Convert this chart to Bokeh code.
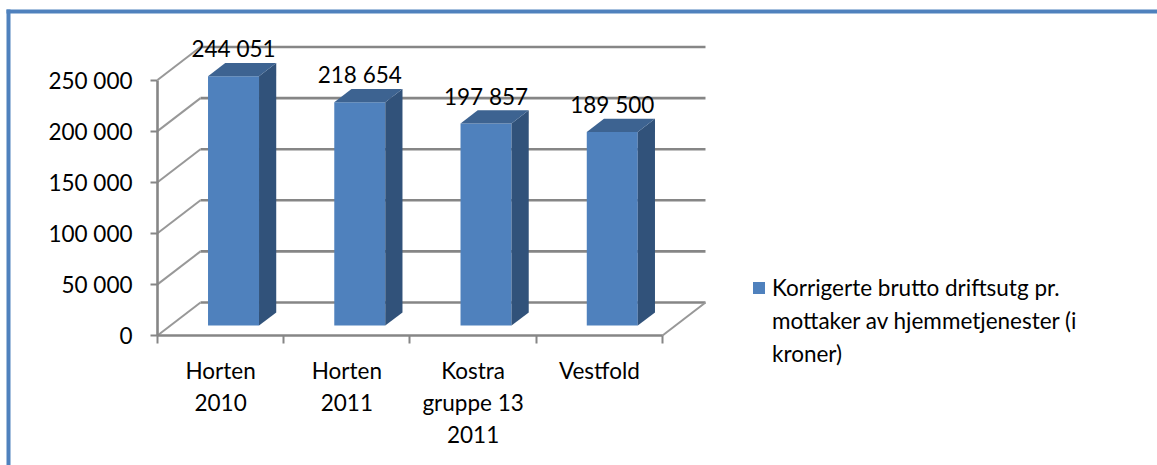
from bokeh.plotting import figure
from bokeh.embed import file_html
from bokeh.resources import INLINE
from bokeh.core.properties import value
from bokeh.models import (ColumnDataSource, FixedTicker, Range1d, Legend, LegendItem,
                          BoxAnnotation)

categories = ["Horten\n2010", "Horten\n2011", "Kostra\ngruppe 13\n2011", "Vestfold"]
values = [244051, 218654, 197857, 189500]
y_ticks = [0, 50000, 100000, 150000, 200000, 250000]
legend_lines = ["Korrigerte brutto driftsutg pr.", "mottaker av hjemmetjenester (i", "kroner)"]

FONT = "Lato"
FS = "22.5px"
GRID = "#868686"
FRONT, SIDE, TOP, BORDER = "#4F81BD", "#31527A", "#3D6391", "#4F81BD"

# oblique projection of the 3-D chart: one unit of depth in data units
DX, DY = 0.3406, 32290
BAR_W, D0, D1 = 0.404, 0.30, 0.70
n = len(categories)

# the plot frame fills the page; both axes are pinned to zero inside it
p = figure(width=1157, height=465, output_backend="svg", toolbar_location=None,
           x_range=Range1d(-1.24356, 7.9208), y_range=Range1d(-127202, 327789),
           min_border_left=0, min_border_right=0, min_border_top=0, min_border_bottom=0,
           outline_line_color=None, background_fill_color="white", border_fill_color="white")
p.grid.visible = False

# page frame of the original: left and top edges only
for kw in (dict(left=6, right=10, top=456, bottom=0),
           dict(left=6, right=1157, top=456, bottom=452)):
    p.add_layout(BoxAnnotation(left_units="screen", right_units="screen", top_units="screen",
                               bottom_units="screen", fill_color=BORDER, fill_alpha=1,
                               line_color=None, level="underlay", **kw))

# walls and floor
p.segment(x0=[DX] * len(y_ticks), y0=[t + DY for t in y_ticks],
          x1=[n + DX] * len(y_ticks), y1=[t + DY for t in y_ticks],
          line_color=GRID, line_width=2.6)
p.segment(x0=[0] * len(y_ticks), y0=y_ticks, x1=[DX] * len(y_ticks), y1=[t + DY for t in y_ticks],
          line_color="#989898", line_width=2)
p.segment(x0=[n], y0=[0], x1=[n + DX], y1=[DY], line_color="#989898", line_width=2)

# bars
left = [i + 0.5 - BAR_W / 2 + D0 * DX for i in range(n)]
right = [l + BAR_W for l in left]
base = [D0 * DY] * n
tops = [v + D0 * DY for v in values]
front = p.quad(left=left, right=right, bottom=base, top=tops, fill_color=FRONT, line_color=None)
dd = D1 - D0
p.patches(xs=[[r, r + dd * DX, r + dd * DX, r] for r in right],
          ys=[[b, b + dd * DY, t + dd * DY, t] for b, t in zip(base, tops)],
          fill_color=SIDE, line_color=None)
p.patches(xs=[[l, l + dd * DX, r + dd * DX, r] for l, r in zip(left, right)],
          ys=[[t, t + dd * DY, t + dd * DY, t] for t in tops],
          fill_color=TOP, line_color=None)

# data labels
src = ColumnDataSource(dict(x=[(l + r) / 2 for l, r in zip(left, right)],
                            y=[t + dd * DY for t in tops],
                            t=[f"{v:,}".replace(",", " ") for v in values]))
p.text(x="x", y="y", text="t", source=src, text_align="center", text_baseline="middle",
       y_offset=-14, text_font=value(FONT), text_font_size=FS, text_color="black")

# axes
ya = p.yaxis[0]
ya.fixed_location = 0
ya.bounds = (0, 250000)
ya.ticker = FixedTicker(ticks=y_ticks)
ya.major_label_overrides = {t: f"{t:,}".replace(",", " ") for t in y_ticks}
ya.major_tick_out, ya.major_tick_in, ya.minor_tick_out, ya.minor_tick_in = 7, 0, 0, 0
ya.major_label_standoff = 18
xa = p.xaxis[0]
xa.fixed_location = 0
xa.bounds = (0, n)
xa.ticker = FixedTicker(ticks=[i + 0.5 for i in range(n)], minor_ticks=list(range(n + 1)))
xa.major_label_overrides = {i + 0.5: c for i, c in enumerate(categories)}
xa.major_tick_out, xa.major_tick_in, xa.minor_tick_out, xa.minor_tick_in = 0, 0, 8, 0
xa.major_label_standoff = 14
for a in (ya, xa):
    a.axis_line_color = GRID
    a.axis_line_width = 2.6
    a.major_tick_line_color = GRID
    a.minor_tick_line_color = GRID
    a.major_tick_line_width = 2
    a.minor_tick_line_width = 2
    a.major_label_text_font = FONT
    a.major_label_text_font_size = FS
    a.major_label_text_color = "black"
    a.major_label_text_font_style = "normal"
xa.major_label_text_line_height = 1.18

# legend: one swatch, remaining lines of the wrapped label without one
blank = p.scatter(x=[], y=[], fill_alpha=0, line_alpha=0)
items = [LegendItem(label=legend_lines[0], renderers=[front])]
items += [LegendItem(label=t, renderers=[blank]) for t in legend_lines[1:]]
leg = Legend(items=items, location=(751, 95), orientation="vertical", background_fill_alpha=0,
             border_line_color=None, glyph_width=15, glyph_height=15, label_standoff=6,
             label_text_font=FONT, label_text_font_size=FS, label_text_color="black",
             label_height=33, spacing=0, margin=0, padding=0)
p.add_layout(leg, "center")

open("out.html", "w").write(file_html(p, INLINE))
